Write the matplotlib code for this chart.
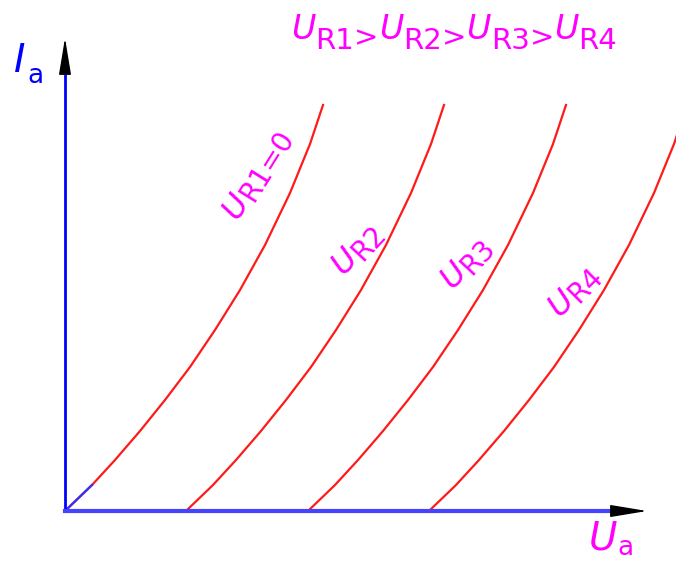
import numpy as np
import matplotlib.pyplot as plt
from matplotlib.transforms import IdentityTransform

# anode characteristic (origin at the axis corner)
base_ua = [0, 27, 50, 75, 100, 125, 150, 175, 200, 225, 245, 258]
base_ia = [0, 26, 51, 80, 111, 144, 181, 221, 266, 318, 367, 406]
# each curve is the first one moved right by the drop across R
ur_shift = [0, 121, 243, 364]
curve_names = ['R1=0', 'R2', 'R3', 'R4']

W, H = 676, 561
RED = '#ff1a1a'
BLUE = '#0000ff'
MAGENTA = '#ff00ff'

fig = plt.figure(figsize=(W / 100, H / 100), dpi=100)
ax = fig.add_axes([0, 0, 1, 1])
ax.set_xlim(-65, W - 65)
ax.set_ylim(-(H - 511), 511)
ax.axis('off')

for u0 in ur_shift:
    ax.plot(np.array(base_ua) + u0, base_ia, color=RED, lw=1.6)
# first bit of the R1 curve is drawn in blue in the original
ax.plot(base_ua[:2], base_ia[:2], color='#3030ff', lw=1.6)

# axes with black arrow heads
ax.plot([0, 0], [0, 441], color=BLUE, lw=2)
ax.plot([0, 548], [0, 0], color='#4444ff', lw=3)
head = dict(arrowstyle='-|>,head_length=23,head_width=3.8', mutation_scale=1,
            color='black', shrinkA=0, shrinkB=0, lw=1)
ax.annotate('', xy=(0, 473), xytext=(0, 441), arrowprops=head)
ax.annotate('', xy=(582, 0), xytext=(548, 0), arrowprops=head)


def put_text(cx, cy, parts, angle=0, color=MAGENTA):
    # cx, cy: centre of the label in picture pixels (y down)
    r = fig.canvas.get_renderer()
    widths = []
    for s, size, it, drop in parts:
        t = fig.text(0, 0, s, fontsize=size, style='italic' if it else 'normal')
        widths.append(t.get_window_extent(r).width)
        t.remove()
    a = np.radians(angle)
    ux, uy = np.cos(a), np.sin(a)
    nx, ny = -uy, ux
    cap = 0.73 * parts[0][1] * 100 / 72
    total = sum(widths)
    x = cx - ux * total / 2 - nx * cap / 2
    y = (H - cy) - uy * total / 2 - ny * cap / 2
    for (s, size, it, drop), w in zip(parts, widths):
        fig.text(x - nx * drop, y - ny * drop, s, fontsize=size,
                 style='italic' if it else 'normal', rotation=angle,
                 rotation_mode='anchor', ha='left', va='baseline',
                 color=color, transform=IdentityTransform())
        x += ux * w
        y += uy * w


# title line
title_parts = []
for i in range(4):
    title_parts.append(('U', 24, True, 0))
    title_parts.append(('R%d' % (i + 1), 21, False, 10))
    if i < 3:
        title_parts.append(('>', 21, False, 7))
put_text(454, 27, title_parts)

# labels along the curves
label_pos = [(254, 172, 58), (355, 246, 47), (464, 260, 47), (572, 288, 45)]
for name, (cx, cy, ang) in zip(curve_names, label_pos):
    put_text(cx, cy, [('U', 23, True, 0), (name, 20, False, 4)], angle=ang)

# axis names
fig.text(14, H - 72, 'I', fontsize=28, style='italic', color=BLUE,
         ha='left', va='baseline', transform=IdentityTransform())
fig.text(27, H - 83, 'a', fontsize=19, color=BLUE,
         ha='left', va='baseline', transform=IdentityTransform())
fig.text(589, H - 550, 'U', fontsize=28, style='italic', color=MAGENTA,
         ha='left', va='baseline', transform=IdentityTransform())
fig.text(617, H - 555, 'a', fontsize=19, color=MAGENTA,
         ha='left', va='baseline', transform=IdentityTransform())

fig.savefig('out.png', dpi=100)
